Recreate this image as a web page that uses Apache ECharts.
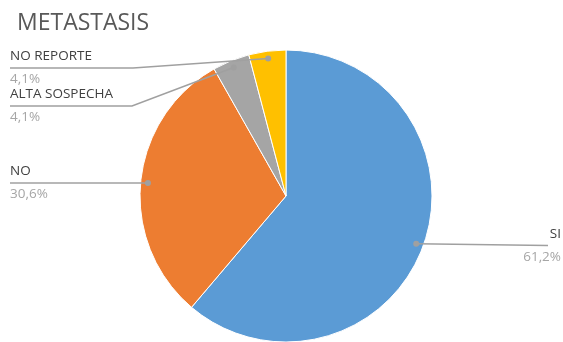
<!DOCTYPE html>
<html>
<head>
<meta charset="utf-8">
<script src="https://cdn.jsdelivr.net/npm/echarts@6/dist/echarts.min.js"></script>
<style>
  html, body { margin: 0; padding: 0; background: #ffffff; }
  #main { width: 563px; height: 342px; }
</style>
</head>
<body>
<div id="main"></div>
<script>
// Metastasis distribution (share of cases, %)
const categories = ['SI', 'NO', 'ALTA SOSPECHA', 'NO REPORTE'];
const shares = [61.2, 30.6, 4.1, 4.1];
const sliceColors = ['#5B9BD5', '#ED7D31', '#A5A5A5', '#FFC000'];

// Where each label block sits and how its leader line bends
const labelAnchors = [
  { x: 561, y: 245.5, align: 'right', bend: [548, 245.5], end: [548, 245.5] },
  { x: 10, y: 183, align: 'left', bend: [10, 183], end: [10, 183] },
  { x: 10, y: 106, align: 'left', bend: [132, 106], end: [10, 106] },
  { x: 10, y: 68, align: 'left', bend: [133, 68], end: [10, 68] }
];

const LEADER_COLOR = '#A0A0A0';

const chart = echarts.init(document.getElementById('main'), null, { renderer: 'canvas' });

function fmtPct(v) {
  return v.toFixed(1).replace('.', ',') + '%';
}

// Point inside a slice (95% of the radius, on its mid angle) where the leader starts
function innerPoint(i) {
  const lay = chart.getModel().getSeriesByIndex(0).getData().getItemLayout(i);
  const mid = (lay.startAngle + lay.endAngle) / 2;
  const rr = lay.r * 0.95;
  return [lay.cx + rr * Math.cos(mid), lay.cy + rr * Math.sin(mid)];
}

chart.setOption({
  animation: false,
  title: {
    text: 'METASTASIS',
    left: 12,
    top: 7,
    textStyle: { fontFamily: 'Open Sans', fontSize: 23, fontWeight: 'normal', color: '#595959' }
  },
  series: [{
    type: 'pie',
    center: [286, 196],
    radius: 146,
    startAngle: 90,
    clockwise: true,
    data: categories.map((c, i) => ({ name: c, value: shares[i], itemStyle: { color: sliceColors[i] } })),
    itemStyle: { borderColor: '#ffffff', borderWidth: 1 },
    emphasis: { disabled: true },
    label: {
      show: true,
      position: 'outside',
      formatter: p => '{n|' + p.name + '}\n{p|' + fmtPct(p.value) + '}',
      rich: {
        n: { fontFamily: 'Open Sans', fontSize: 13.5, color: '#404040', lineHeight: 23 },
        p: { fontFamily: 'Open Sans', fontSize: 13.5, color: '#A6A6A6', lineHeight: 23 }
      }
    },
    labelLine: { show: false },
    labelLayout: function (params) {
      const a = labelAnchors[params.dataIndex];
      return { x: a.x, y: a.y, align: a.align, verticalAlign: 'middle' };
    }
  }]
});

// Leader lines and dots, drawn above the slices
const leaders = [];
categories.forEach((c, i) => {
  const p = innerPoint(i);
  const a = labelAnchors[i];
  leaders.push({
    type: 'polyline', z: 100,
    shape: { points: [p, a.bend, a.end] },
    style: { stroke: LEADER_COLOR, lineWidth: 1.5, fill: null }
  });
  leaders.push({
    type: 'circle', z: 101,
    shape: { cx: p[0], cy: p[1], r: 3 },
    style: { fill: LEADER_COLOR }
  });
});
chart.setOption({ graphic: leaders });
</script>
</body>
</html>
